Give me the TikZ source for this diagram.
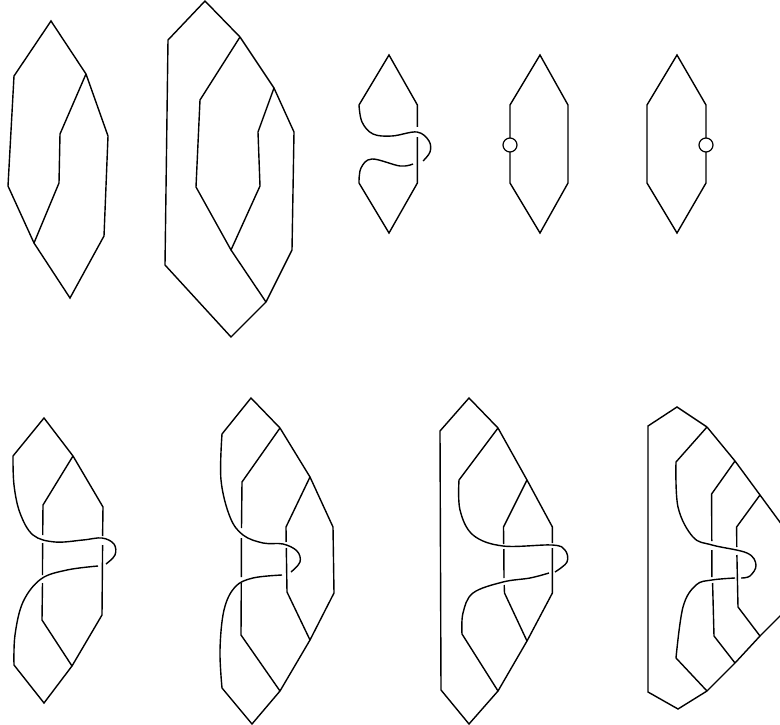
\documentclass[tikz,border=0pt]{standalone}
\tikzset{
  strand/.style={draw, line width=1.4pt, line join=miter},
  curl/.style={strand, smooth, tension=0.6},
  ring/.style={circle, draw, fill=white, line width=1.2pt, minimum size=14pt, inner sep=0pt}
}

\begin{document}
\begin{tikzpicture}[x=1pt,y=-1pt]
  \clip (0,0) rectangle (780,725);

  % top row
  \draw[strand] (51,21) -- (14,76) -- (8,186) -- (34,243) -- (70,298) -- (104,236) -- (108,136) -- (86,74) -- cycle;
  \draw[strand] (86,74) -- (60,134) -- (59,183) -- (34,243);

  \draw[strand] (205,1) -- (168,40) -- (165,265) -- (231,337) -- (266,302) -- (292,250) -- (294,132) -- (274,88) -- (240,37) -- cycle;
  \draw[strand] (240,37) -- (200,100) -- (196,187) -- (231,250) -- (266,302);
  \draw[strand] (274,88) -- (258,132) -- (260,186) -- (231,250);

  \draw[strand] (359,105) -- (389,55) -- (417.4,105) -- (417.4,127);
  \draw[strand] (417.4,137) -- (417.4,183) -- (389,233) -- (359,183);
  \draw[curl] plot coordinates {(359,105) (362,122) (373,134) (392,136) (417,132) (429,141) (430,152) (423,161)};
  \draw[curl] plot coordinates {(413,164) (400,166) (372,159) (361,168) (359,183)};

  \draw[strand] (540,55) -- (510,105) -- (510,183) -- (540,233) -- (568,183) -- (568,105) -- cycle;
  \node[ring] (pt1) at (510,145) {};

  \draw[strand] (677,55) -- (647,105) -- (647,183) -- (677,233) -- (706,183) -- (706,105) -- cycle;
  \node[ring] (pt2) at (706,145) {};

  % bottom row
  \draw[strand] (13,456) -- (44,418) -- (73,456) -- (103,507) -- (102.6,536);
  \draw[strand] (102.6,545) -- (102,615) -- (72,666) -- (44,703) -- (14,665);
  \draw[strand] (73,456) -- (43,505) -- (42.7,535);
  \draw[strand] (42.6,543) -- (42.5,575);
  \draw[strand] (42.5,583) -- (42,620) -- (72,666);
  \draw[curl] plot coordinates {(13,456) (14,485) (20,513) (33,535) (55,542) (83,540) (102,538) (114,544) (115,555) (106,564)};
  \draw[curl] plot coordinates {(98,566) (67,570) (41,579) (23,602) (15,635) (14,665)};

  \draw[strand] (222,434) -- (251,398) -- (280,428) -- (310,477) -- (333,527) -- (334,593) -- (310,640) -- (280,691) -- (252,724) -- (222,688);
  \draw[strand] (280,428) -- (242,482) -- (241.5,528);
  \draw[strand] (241.4,538) -- (241.3,577);
  \draw[strand] (241.3,583) -- (241,635) -- (280,691);
  \draw[strand] (310,477) -- (286,527) -- (286.2,542);
  \draw[strand] (286.3,548) -- (287,592) -- (310,640);
  \draw[curl] plot coordinates {(222,434) (221,480) (230,517) (243,535) (263,543) (283,544) (297,551) (300,562) (291,572)};
  \draw[curl] plot coordinates {(282,575) (253,578) (235,587) (224,610) (220,650) (222,688)};

  \draw[strand] (498,428) -- (469,398) -- (440,431) -- (441,690) -- (469,724) -- (498,691) -- (527,641) -- (552.4,593) -- (552.4,548);
  \draw[strand] (552.4,543) -- (552.4,527) -- (527,480) -- (498,428);
  \draw[strand] (498,428) -- (459,480);
  \draw[strand] (527,480) -- (503.5,527) -- (503.7,544);
  \draw[strand] (503.8,549) -- (504,578);
  \draw[strand] (504.2,585) -- (504.5,593) -- (527,641);
  \draw[strand] (462,634) -- (498,691);
  \draw[curl] plot coordinates {(459,480) (460,510) (473,535) (503,546) (552,545) (565,550) (567,562) (555,572)};
  \draw[curl] plot coordinates {(549,573) (530,578) (503,582) (473,593) (463,613) (462,634)};

  \draw[strand] (707,427) -- (677,407) -- (648,426) -- (648,692) -- (678,709) -- (707,691) -- (735,663) -- (760,636) -- (782,614);
  \draw[strand] (707,427) -- (735,461) -- (760,495) -- (782,525);
  \draw[strand] (707,427) -- (676,462);
  \draw[strand] (735,461) -- (711.6,494) -- (711.8,541);
  \draw[strand] (711.8,550) -- (711.9,577);
  \draw[strand] (712.6,583) -- (714,636) -- (735,663);
  \draw[strand] (760,495) -- (736.6,527) -- (736.8,547);
  \draw[strand] (736.9,555) -- (738,607) -- (760,636);
  \draw[strand] (676,658) -- (707,691);
  \draw[curl] plot coordinates {(676,462) (678,507) (693,537) (712,545) (747,553) (756,565) (750,576) (741,578)};
  \draw[curl] plot coordinates {(735,578) (712,580) (696,585) (683,607) (676,658)};
\end{tikzpicture}
\end{document}
